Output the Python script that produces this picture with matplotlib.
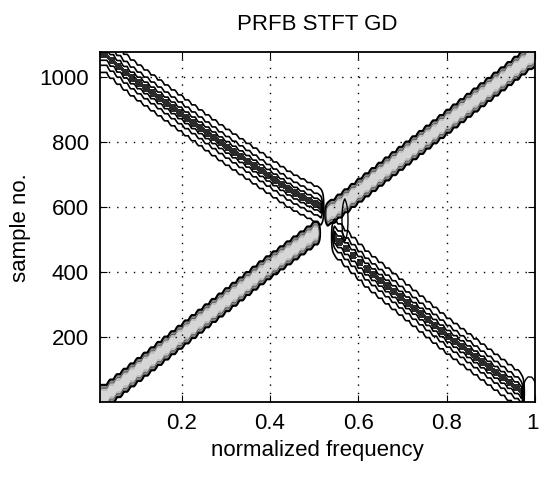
import numpy as np
import matplotlib.pyplot as plt
from matplotlib import font_manager, transforms

# ridge knots (normalized frequency, sample no.)
rise_lo_f = [0.015, 0.195, 0.384, 0.51]
rise_lo_t = [10, 200, 400, 523]
rise_hi_f = [0.53, 1.0]
rise_hi_t = [578, 1068]

fall_up_f = [0.015, 0.082, 0.286, 0.45, 0.52]
fall_up_t = [1078, 1000, 800, 650, 600]
fall_dn_f = [0.543, 0.616, 0.797, 0.975]
fall_dn_t = [508, 410, 210, 30]

# small stray blobs (frequency, sample no.)
blob_f = [0.988, 0.57]
blob_t = [30, 560]
blob_wf = [0.014, 0.006]
blob_wt = [45, 60]

f_min, f_max = 0.015, 1.0
t_min, t_max = 1, 1075
xticks = [0.2, 0.4, 0.6, 0.8, 1]
xticklabels = ['0.2', '0.4', '0.6', '0.8', '1']
yticks = [200, 400, 600, 800, 1000]

names = {f.name for f in font_manager.fontManager.ttflist}
fam = 'Liberation Sans' if 'Liberation Sans' in names else 'DejaVu Sans'
plt.rcParams['font.family'] = fam

# plotting grid, ridge centre held constant inside each 1/64 frequency bin
fx = np.linspace(f_min, f_max, 129)
ty = np.linspace(t_min, t_max, 500)
F, T = np.meshgrid(fx, ty)
step = 1 / 64
fq = f_min + (np.floor((fx - f_min) / step) + 0.5) * step


def ridge(fk, tk, width):
    c = np.interp(fq, fk, tk)
    inside = (fx >= fk[0] - 1e-9) & (fx <= fk[-1] + 1e-9)
    z = np.exp(-((T - c[None, :]) / width) ** 2)
    z[:, ~inside] = 0
    return z


rise = np.maximum(ridge(rise_lo_f, rise_lo_t, 30), ridge(rise_hi_f, rise_hi_t, 30))
fall = np.maximum(ridge(fall_up_f, fall_up_t, 40), ridge(fall_dn_f, fall_dn_t, 40))

blobs = np.zeros_like(F)
for bf, bt, wf, wt in zip(blob_f, blob_t, blob_wf, blob_wt):
    blobs = np.maximum(blobs, np.exp(-((F - bf) / wf) ** 2 - ((T - bt) / wt) ** 2))

fig = plt.figure(figsize=(5.39, 4.79), dpi=100)
ax = fig.add_axes([0.1855, 0.1608, 0.8071, 0.7296])

ax.contourf(F, T, rise, levels=[0.25, 0.5, 0.8, 1.01],
            colors=['#8a8a8a', '#bdbdbd', '#d6d6d6'])
ax.contour(F, T, rise, levels=[0.25], colors='k', linewidths=1.5)
ax.contour(F, T, rise, levels=[0.5], colors='#555555', linewidths=0.7)

ax.contourf(F, T, fall, levels=[0.94, 1.01], colors=['#2a2a2a'])
ax.contour(F, T, fall, levels=[0.15, 0.5, 0.82], colors='k', linewidths=1.2)

ax.contour(F, T, blobs, levels=[0.3], colors='k', linewidths=1.0)

ax.set_xlim(f_min, f_max)
ax.set_ylim(t_min, t_max)
ax.set_xticks(xticks)
ax.set_xticklabels(xticklabels)
ax.set_yticks(yticks)
ax.grid(True, color='k', linestyle=(0, (1, 5)), linewidth=1.0)
ax.tick_params(direction='in', length=5, labelsize=16, top=True, right=True, pad=8)
for s in ax.spines.values():
    s.set_linewidth(1.3)

# keep the last tick label inside the figure
last = ax.get_xticklabels()[-1]
last.set_horizontalalignment('right')
last.set_transform(last.get_transform() + transforms.ScaledTranslation(4 / 100, 0, fig.dpi_scale_trans))

ax.set_title('PRFB STFT GD', fontsize=16, pad=16)
ax.set_xlabel('normalized frequency', fontsize=16, labelpad=4)
ax.set_ylabel('sample no.', fontsize=16, labelpad=6)

fig.savefig('out.png', dpi=100)
